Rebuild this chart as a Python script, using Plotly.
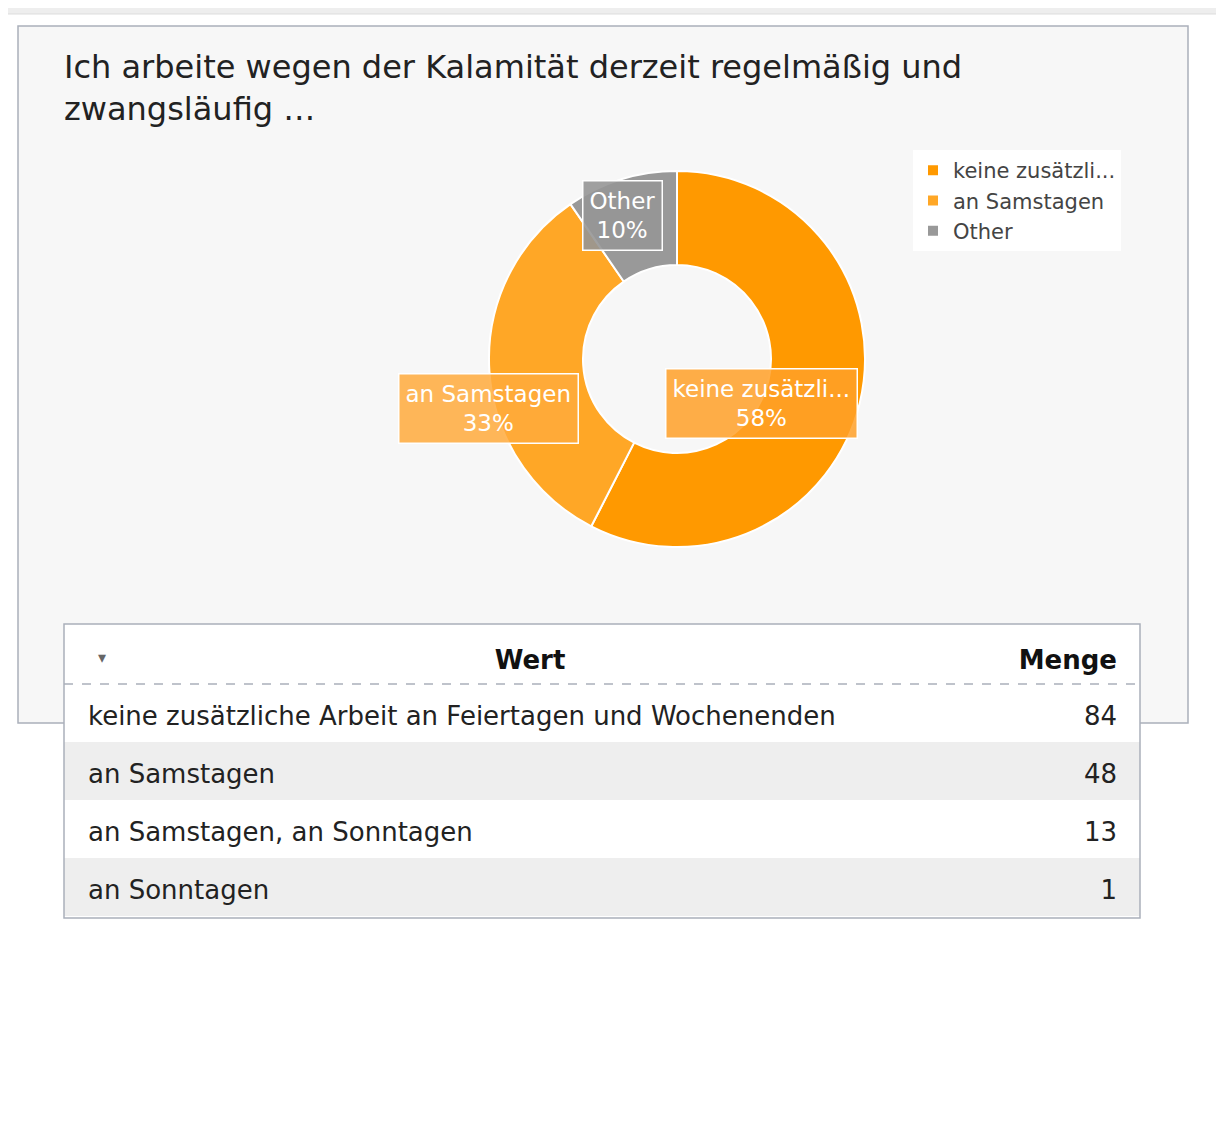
import plotly.graph_objects as go

W, H = 1224, 1134
pie_labels = ["keine zusätzli...", "an Samstagen", "Other"]
pie_values = [84, 48, 14]
pie_colors = ["#ff9900", "#ffa726", "#999999"]

tab_wert = ["keine zusätzliche Arbeit an Feiertagen und Wochenenden", "an Samstagen",
            "an Samstagen, an Sonntagen", "an Sonntagen"]
tab_menge = [84, 48, 13, 1]

OFF = 8
def px(x): return (x - OFF) / W
def py(y): return 1 - (y - OFF) / H

FONT = "DejaVu Sans"
fig = go.Figure()
cx, cy, r = 677, 359, 188
fig.add_trace(go.Pie(labels=pie_labels, values=pie_values, hole=0.5, sort=False,
    direction="clockwise", textinfo="none", hoverinfo="label+percent",
    marker=dict(colors=pie_colors, line=dict(color="white", width=2)),
    domain=dict(x=[px(cx - r), px(cx + r)], y=[py(cy + r), py(cy - r)])))

TSH = 13  # vertical shift of table text to centre it in rows
fig.add_trace(go.Table(
    domain=dict(x=[px(80), px(1125)], y=[py(918 + TSH), py(624 + TSH)]),
    columnwidth=[900, 145],
    header=dict(values=["<b>Wert</b>", "<b>Menge</b>"], align=["center", "right"],
                height=60, fill_color="rgba(0,0,0,0)", line_color="rgba(0,0,0,0)",
                font=dict(family=FONT, size=26, color="#111")),
    cells=dict(values=[tab_wert, tab_menge], align=["left", "right"], height=58,
               fill_color="rgba(0,0,0,0)", line_color="rgba(0,0,0,0)",
               font=dict(family=FONT, size=26, color="#222"))))

total = sum(pie_values)
pcts = [round(v / total * 100) for v in pie_values]
label_pos = [(858, 403), (488, 373), (622, 180)]
label_bg = ["rgba(255,160,40,0.85)", "rgba(255,170,60,0.85)", "rgba(150,150,150,0.9)"]
anns = []
for (x, y), lab, p, bg in zip(label_pos, pie_labels, pcts, label_bg):
    anns.append(dict(x=px(x), y=py(y), xref="paper", yref="paper", showarrow=False,
        text=f"{lab}<br>{p}%", bgcolor=bg, bordercolor="white", borderwidth=1.5, borderpad=6,
        font=dict(family=FONT, size=23, color="white")))
anns.append(dict(x=px(62), y=py(46), xref="paper", yref="paper", xanchor="left", yanchor="top",
    showarrow=False, align="left",
    text="Ich arbeite wegen der Kalamität derzeit regelmäßig und<br>zwangsläufig …",
    font=dict(family=FONT, size=32, color="#222")))
anns.append(dict(x=px(96), y=py(657), xref="paper", yref="paper", showarrow=False,
    text="▾", font=dict(size=16, color="#666")))

shapes = [
    dict(type="rect", xref="paper", yref="paper", x0=-0.01, x1=1.01, y0=py(14), y1=1.01,
         fillcolor="#eeeeee", line=dict(color="#dddddd", width=1), layer="below"),
    dict(type="rect", xref="paper", yref="paper", x0=px(18), x1=px(1188), y0=py(723), y1=py(26),
         fillcolor="#f7f7f7", line=dict(color="#aab0bb", width=1.5), layer="below"),
    dict(type="rect", xref="paper", yref="paper", x0=px(64), x1=px(1140), y0=py(684), y1=py(624),
         fillcolor="white", line=dict(width=0), layer="below"),
]
for i in range(len(tab_wert)):
    y0 = 684 + 58 * i
    shapes.append(dict(type="rect", xref="paper", yref="paper", x0=px(64), x1=px(1140),
        y0=py(y0 + 58), y1=py(y0), fillcolor="white" if i % 2 == 0 else "#eeeeee",
        line=dict(width=0), layer="below"))
shapes += [
    dict(type="rect", xref="paper", yref="paper", x0=px(64), x1=px(1140), y0=py(918), y1=py(624),
         fillcolor="rgba(0,0,0,0)", line=dict(color="#aab0bb", width=1.5), layer="above"),
    dict(type="line", xref="paper", yref="paper", x0=px(64), x1=px(1140), y0=py(684), y1=py(684),
         line=dict(color="#aab0bb", width=1.5, dash="dash"), layer="above"),
]

fig.update_layout(width=W, height=H, margin=dict(l=0, r=0, t=0, b=0),
    paper_bgcolor="white", plot_bgcolor="white", annotations=anns, shapes=shapes,
    legend=dict(x=px(913), y=py(150), xanchor="left", yanchor="top", bgcolor="white",
                font=dict(family=FONT, size=21, color="#444"), itemwidth=30,
                tracegroupgap=0),
    font=dict(family=FONT))
fig.write_html("out.html")
